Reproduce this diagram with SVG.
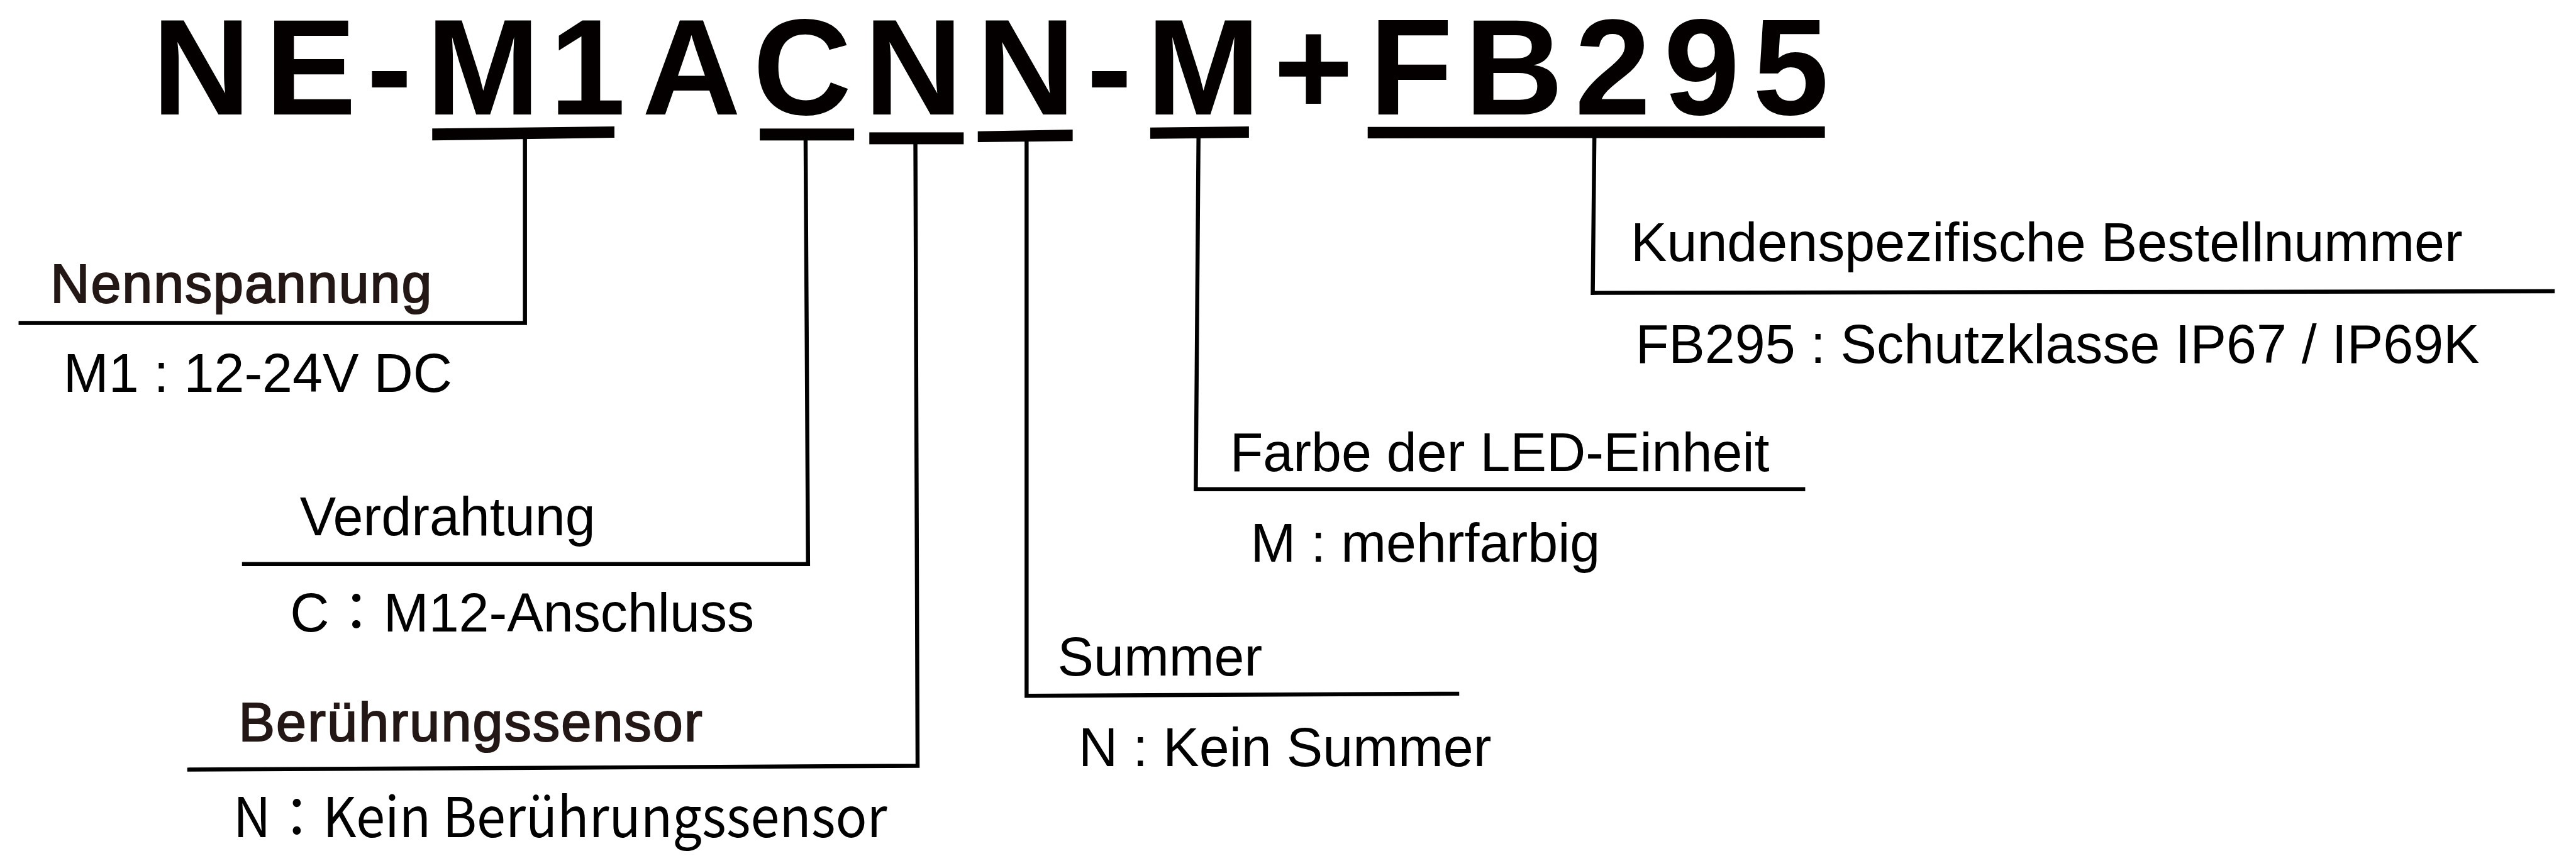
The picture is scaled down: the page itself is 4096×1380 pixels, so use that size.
<svg xmlns="http://www.w3.org/2000/svg" width="4096" height="1380" viewBox="0 0 4096 1380">
<style>
.t{font-family:"Liberation Sans",Arial,"Noto Sans CJK JP",sans-serif;font-size:100px;fill:#000}
.m{font-family:"Liberation Sans",Arial,sans-serif;font-size:100px;fill:#231815;stroke:#231815;stroke-width:2.5px}
.cjk{font-family:"Noto Sans CJK JP","Noto Sans CJK TC",sans-serif;font-size:102px;fill:#000}
.title{font-family:"Liberation Sans",Arial,sans-serif;font-weight:bold;font-size:252px;fill:#040000;text-anchor:middle}
.ln{fill:none;stroke:#000;stroke-width:7.5;stroke-linecap:square;stroke-linejoin:miter}
.bar{fill:#040000}
</style>
<rect width="4096" height="1380" fill="#fff"/>
<g transform="scale(0.8623)">
<g id="title">
<text class="title" y="210.5" x="371.5 573 718 891 1083.5 1275 1479.5 1684.5 1892 2045.5 2219 2422 2602 2791.5 2974 3138 3302">NE-M1ACNN-M+FB295</text>
<polygon class="bar" points="797,237 1133,233 1133,254 797,259"/>
<rect class="bar" x="1401" y="237" width="174" height="22"/>
<rect class="bar" x="1603" y="244" width="174" height="22"/>
<polygon class="bar" points="1803,242 1978,239 1978,260 1803,262"/>
<polygon class="bar" points="2121,235 2303,233 2303,254 2121,256"/>
<polygon class="bar" points="2522,234 3365,233 3365,254 2522,255"/>
</g>
<g id="connectors">
<polyline class="ln" points="38,595.5 968,595.5 968,258"/>
<polyline class="ln" points="450,1040 1490,1040 1485.5,259"/>
<polyline class="ln" points="349,1419 1692,1412 1688,266"/>
<polyline class="ln" points="2687,1279 1893,1283 1893,262"/>
<polyline class="ln" points="3325,902 2205,902 2210,256"/>
<polyline class="ln" points="4707,537 2937,540 2940,255"/>
</g>
<g id="node-nennspannung">
<text class="m" x="93" y="558" textLength="703">Nennspannung</text>
<text class="t" x="117" y="723">M1 : 12-24V DC</text>
</g>
<g id="node-verdrahtung">
<text class="t" x="553" y="987">Verdrahtung</text>
<text class="t" x="535" y="1164">C：M12-Anschluss</text>
</g>
<g id="node-beruehrungssensor">
<text class="m" x="440" y="1366" textLength="855">Berührungssensor</text>
<text class="cjk" x="430" y="1543" textLength="1206" lengthAdjust="spacingAndGlyphs">N：Kein Berührungssensor</text>
</g>
<g id="node-summer">
<text class="t" x="1950" y="1245">Summer</text>
<text class="t" x="1989" y="1413">N : Kein Summer</text>
</g>
<g id="node-farbe">
<text class="t" x="2268" y="869">Farbe der LED-Einheit</text>
<text class="t" x="2306" y="1036">M : mehrfarbig</text>
</g>
<g id="node-kunden">
<text class="t" x="3007" y="481">Kundenspezifische Bestellnummer</text>
<text class="t" x="3016" y="669">FB295 : Schutzklasse IP67 / IP69K</text>
</g>
</g>
</svg>
